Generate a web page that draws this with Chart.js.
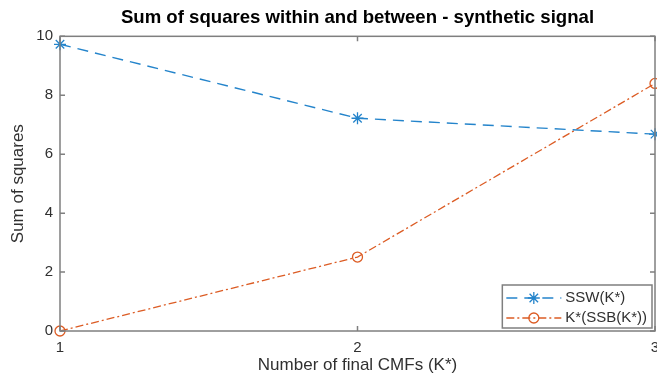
<!DOCTYPE html>
<html>
<head>
<meta charset="utf-8">
<script src="https://cdn.jsdelivr.net/npm/chart.js@4.4.0/dist/chart.umd.min.js"></script>
<style>
  html, body { margin: 0; padding: 0; background: #fff; }
  #wrap { width: 657px; height: 383px; }
</style>
</head>
<body>
<div id="wrap"><canvas id="ssChart"></canvas></div>
<script>
// K* values and the two curves
const kValues = [1, 2, 3];
const ssw = [9.73, 7.22, 6.68];
const kSsb = [0, 2.51, 8.4];
const xTicks = [1, 2, 3];
const yTicks = [0, 2, 4, 6, 8, 10];

const axisColor = '#7f7f7f';
const textColor = '#303030';
const family = '"Liberation Sans", Arial, Helvetica, sans-serif';

// box around the plot with inward tick marks on all four sides
const boxAxes = {
  id: 'boxAxes',
  afterDatasetsDraw(chart) {
    const { ctx, chartArea: a, scales: { x, y } } = chart;
    const len = 5;
    ctx.save();
    ctx.strokeStyle = axisColor;
    ctx.lineWidth = 1.5;
    ctx.strokeRect(a.left, a.top, a.right - a.left, a.bottom - a.top);
    ctx.beginPath();
    x.ticks.forEach(t => {
      const px = x.getPixelForValue(t.value);
      ctx.moveTo(px, a.bottom); ctx.lineTo(px, a.bottom - len);
      ctx.moveTo(px, a.top); ctx.lineTo(px, a.top + len);
    });
    y.ticks.forEach(t => {
      const py = y.getPixelForValue(t.value);
      ctx.moveTo(a.left, py); ctx.lineTo(a.left + len, py);
      ctx.moveTo(a.right, py); ctx.lineTo(a.right - len, py);
    });
    ctx.stroke();
    ctx.restore();
  }
};

// legend box in the lower right corner of the plot
const insideLegend = {
  id: 'insideLegend',
  afterDraw(chart) {
    const { ctx, chartArea: a } = chart;
    const sets = chart.data.datasets;
    ctx.save();
    ctx.font = '15px ' + family;
    const textW = Math.max(...sets.map(d => ctx.measureText(d.label).width));
    const sampleW = 55, rowH = 20;
    const w = 4 + sampleW + 4 + textW + 5;
    const h = sets.length * rowH + 3;
    const right = a.right - 3, bottom = a.bottom - 3;
    const left = right - w, top = bottom - h;
    ctx.fillStyle = '#fff';
    ctx.fillRect(left, top, w, h);
    ctx.strokeStyle = axisColor;
    ctx.lineWidth = 1.5;
    ctx.strokeRect(left, top, w, h);
    sets.forEach((d, i) => {
      const cy = top + 3 + rowH * i + rowH / 2;
      const x0 = left + 4, x1 = x0 + sampleW;
      ctx.strokeStyle = d.borderColor;
      ctx.lineWidth = d.borderWidth;
      ctx.setLineDash(d.borderDash);
      ctx.beginPath();
      ctx.moveTo(x0, cy);
      ctx.lineTo(x1, cy);
      ctx.stroke();
      ctx.setLineDash([]);
      ctx.fillStyle = 'rgba(0,0,0,0)';
      ctx.lineWidth = d.pointBorderWidth;
      Chart.helpers.drawPoint(ctx, {
        pointStyle: d.pointStyle, radius: d.pointRadius,
        borderWidth: d.pointBorderWidth, rotation: 0
      }, (x0 + x1) / 2, cy);
      ctx.fillStyle = textColor;
      ctx.textBaseline = 'middle';
      ctx.textAlign = 'left';
      ctx.fillText(d.label, x1 + 4, cy);
    });
    ctx.restore();
  }
};

const ctx = document.getElementById('ssChart').getContext('2d');
new Chart(ctx, {
  type: 'line',
  data: {
    datasets: [
      {
        label: 'SSW(K*)',
        data: kValues.map((k, i) => ({ x: k, y: ssw[i] })),
        borderColor: '#2484cb',
        borderWidth: 1.4,
        borderDash: [11, 7],
        pointStyle: 'star',
        pointRadius: 6,
        pointBorderWidth: 1.3,
        pointBorderColor: '#2484cb',
        pointBackgroundColor: '#2484cb',
        fill: false,
        tension: 0,
        clip: false
      },
      {
        label: 'K*(SSB(K*))',
        data: kValues.map((k, i) => ({ x: k, y: kSsb[i] })),
        borderColor: '#dc5c24',
        borderWidth: 1.3,
        borderDash: [8, 3, 2, 3],
        pointStyle: 'circle',
        pointRadius: 5,
        pointBorderWidth: 1.3,
        pointBorderColor: '#dc5c24',
        pointBackgroundColor: 'rgba(0,0,0,0)',
        fill: false,
        tension: 0,
        clip: false
      }
    ]
  },
  options: {
    responsive: true,
    maintainAspectRatio: false,
    animation: false,
    // markers may overhang the plot edge, so no automatic padding for them
    layout: { padding: 0, autoPadding: false },
    plugins: {
      legend: { display: false },
      tooltip: { enabled: false },
      title: {
        display: true,
        fullSize: false,
        text: 'Sum of squares within and between - synthetic signal',
        color: '#000',
        font: { family, size: 18.6, weight: 'bold' },
        padding: { top: 7, bottom: 7 }
      }
    },
    scales: {
      x: {
        type: 'linear',
        min: 1,
        max: 3,
        afterBuildTicks(scale) { scale.ticks = xTicks.map(v => ({ value: v })); },
        afterFit(scale) { scale.height = 52; scale.paddingLeft = 0; scale.paddingRight = 2; },
        ticks: { color: textColor, font: { family, size: 15 }, padding: 8, maxRotation: 0 },
        grid: { display: false, drawTicks: false },
        border: { display: false },
        title: {
          display: true,
          text: 'Number of final CMFs (K*)',
          color: textColor,
          font: { family, size: 17 },
          padding: { top: 0, bottom: 7 }
        }
      },
      y: {
        type: 'linear',
        min: 0,
        max: 10,
        afterBuildTicks(scale) { scale.ticks = yTicks.map(v => ({ value: v })); },
        afterFit(scale) { scale.width = 60; },
        ticks: { color: textColor, font: { family, size: 15 }, padding: 7 },
        grid: { display: false, drawTicks: false },
        border: { display: false },
        title: {
          display: true,
          text: 'Sum of squares',
          color: textColor,
          font: { family, size: 17 },
          padding: { top: 8, bottom: 0 }
        }
      }
    }
  },
  plugins: [boxAxes, insideLegend]
});
</script>
</body>
</html>
